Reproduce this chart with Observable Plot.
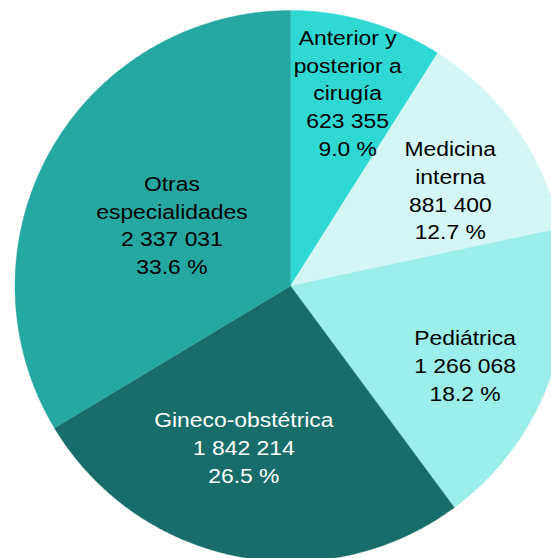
<!DOCTYPE html>
<html><head><meta charset="utf-8">
<script src="https://cdn.jsdelivr.net/npm/d3@7"></script>
<script src="https://cdn.jsdelivr.net/npm/@observablehq/plot@0.6"></script>
<style>html,body{margin:0;padding:0;background:#fff;overflow:hidden;}</style>
</head><body><div id="chart"></div>
<script>
// Data
const categories = ["Anterior y\nposterior a\ncirugía", "Medicina\ninterna", "Pediátrica", "Gineco-obstétrica", "Otras\nespecialidades"];
const values = [623355, 881400, 1266068, 1842214, 2337031];
const colors = ["#30d8d4", "#d4f7f5", "#9beee9", "#186d6a", "#25a7a2"];
const textColors = ["#000000", "#000000", "#000000", "#ffffff", "#000000"];

// Layout (not data)
const W = 551, H = 558, cx = 290, cy = 285.5, R = 275.5;
const labelRadius = [0.729, 0.675, 0.697, 0.613, 0.483];
const labelAngleShift = [0.4, 4.1, 3.9, 4.8, -2.5];
const textStretch = 1.09;

const total = d3.sum(values);
const loc = d3.formatLocale({thousands: " ", grouping: [3], decimal: ".", currency: ["", ""]});
const fmt = loc.format(",d");

const arcs = d3.pie().sort(null).value(d => d)(values);
const poly = [];
arcs.forEach((a, i) => {
  const name = categories[i];
  poly.push({name, x: cx, y: cy});
  const n = Math.max(2, Math.ceil((a.endAngle - a.startAngle) / (Math.PI / 360)));
  for (let k = 0; k <= n; k++) {
    const t = a.startAngle + (a.endAngle - a.startAngle) * k / n;
    poly.push({name, x: cx + R * Math.sin(t), y: cy - R * Math.cos(t)});
  }
  poly.push({name, x: cx, y: cy});
});

const labels = arcs.map((a, i) => {
  const mid = (a.startAngle + a.endAngle) / 2 + labelAngleShift[i] * Math.PI / 180;
  const r = R * labelRadius[i];
  return {
    name: categories[i],
    x: cx + r * Math.sin(mid),
    y: cy - r * Math.cos(mid),
    text: categories[i] + "\n" + fmt(values[i]) + "\n" + (values[i] / total * 100).toFixed(1) + " %",
    color: textColors[i]
  };
});

const textOpts = {x: "x", y: "y", text: "text", fontSize: 21, lineHeight: 1.32, dy: -2,
  fontFamily: "Liberation Sans, Arial, sans-serif", textAnchor: "middle", lineAnchor: "middle"};

const chart = Plot.plot({
  width: W, height: H, margin: 0,
  x: {type: "linear", domain: [0, W], range: [0, W], axis: null},
  y: {type: "linear", domain: [0, H], range: [0, H], axis: null},
  color: {domain: categories, range: colors},
  style: {background: "#ffffff"},
  marks: [
    Plot.line(poly, {x: "x", y: "y", z: "name", fill: "name", stroke: "name", strokeWidth: 0.4, curve: "linear"}),
    Plot.text(labels.filter(d => d.color === "#000000"), {...textOpts, fill: "#000000"}),
    Plot.text(labels.filter(d => d.color !== "#000000"), {...textOpts, fill: "#ffffff"})
  ]
});
// Slight horizontal stretch of label glyphs, as in the reference rendering
d3.select(chart).selectAll("text").each(function() {
  const t = this.getAttribute("transform") || "";
  this.setAttribute("transform", t + ` scale(${textStretch},1)`);
});
document.getElementById("chart").appendChild(chart);
</script>
</body></html>
